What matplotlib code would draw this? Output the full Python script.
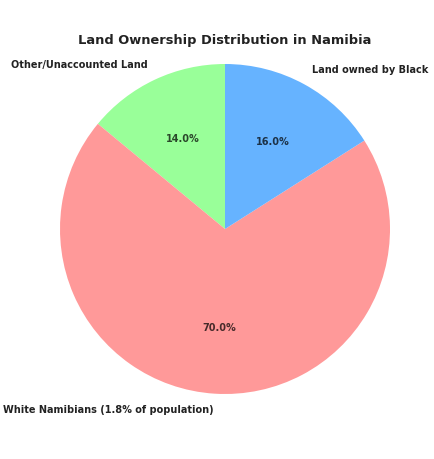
import matplotlib
matplotlib.use("Agg")
import matplotlib.pyplot as plt

labels = ["Other/Unaccounted Land", "White Namibians (1.8% of population)", "Land owned by Black"]
sizes = [14.0, 70.0, 16.0]
colors = ["#99ff99", "#ff9999", "#66b3ff"]
title = "Land Ownership Distribution in Namibia"

fig = plt.figure(figsize=(4.35, 4.59), dpi=100)
ax = fig.add_axes([60/435, 65/459, 330/435, 330/459])
wedges, texts, autotexts = ax.pie(
    sizes, labels=labels, colors=colors, autopct="%1.1f%%",
    startangle=90, textprops={"fontsize": 7.0, "fontweight": "bold"})
for t in texts:
    t.set_color("#222222")
for t in autotexts:
    t.set_color((0, 0, 0, 0.72))
ax.set_xlim(-1, 1)
ax.set_ylim(-1, 1)
ax.set_aspect("auto")
fig.text(225/435, 1 - 40.5/459, title, ha="center", va="center",
         fontsize=9.4, fontweight="bold", color="#222222")
fig.savefig("out.png", dpi=100)
